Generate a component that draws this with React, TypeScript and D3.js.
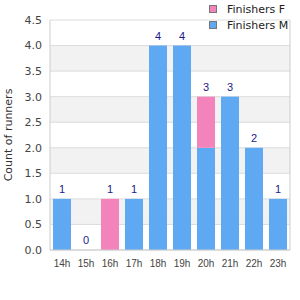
import React from "react";
import * as d3 from "d3";

const hours = ["14h", "15h", "16h", "17h", "18h", "19h", "20h", "21h", "22h", "23h"];
const finishersM = [1, 0, 0, 1, 4, 4, 2, 3, 2, 1];
const finishersF = [0, 0, 1, 0, 0, 0, 1, 0, 0, 0];
const yTicks = [0, 0.5, 1, 1.5, 2, 2.5, 3, 3.5, 4, 4.5];

const colorM = "#5fa9f2";
const colorF = "#f284bb";
const font = "DejaVu Sans, Verdana, sans-serif";

const App = () => {
  const width = 300;
  const height = 300;
  const margin = { top: 20, right: 10, bottom: 50, left: 50 };
  const innerW = width - margin.left - margin.right;
  const innerH = height - margin.top - margin.bottom;

  const x = d3.scaleBand().domain(hours).range([0, innerW]).paddingInner(0.25).paddingOuter(0.125);
  const y = d3.scaleLinear().domain([0, 4.5]).range([innerH, 0]);

  const rows = hours.map((h, i) => ({ hour: h, M: finishersM[i], F: finishersF[i] }));
  const stacked = d3.stack<any>().keys(["M", "F"])(rows);
  const colors: Record<string, string> = { M: colorM, F: colorF };

  // grey bands between n+0.5 and n+1
  const bands = d3.range(0.5, 4.5, 1);

  return (
    <svg width={width} height={height} style={{ position: "absolute", left: 0, top: 0, fontFamily: font }}>
      <g transform={`translate(${margin.left},${margin.top})`}>
        {bands.map((b) => (
          <rect key={b} x={0} y={y(b + 0.5)} width={innerW} height={y(b) - y(b + 0.5)} fill="#f2f2f2" />
        ))}
        {yTicks.map((t) => (
          <g key={t}>
            <line x1={0} x2={innerW} y1={y(t)} y2={y(t)} stroke="#dcdcdc" />
            <text x={-8} y={y(t)} dy="0.35em" textAnchor="end" fontSize={11} fill="#444">
              {t.toFixed(1)}
            </text>
          </g>
        ))}
        <line x1={0} x2={0} y1={0} y2={innerH} stroke="#ccc" />
        <line x1={innerW} x2={innerW} y1={0} y2={innerH} stroke="#ccc" />
        {stacked.map((s) => (
          <g key={s.key} fill={colors[s.key]}>
            {s.map((d, i) =>
              d[1] - d[0] > 0 ? (
                <rect key={i} x={x(hours[i])} y={y(d[1])} width={x.bandwidth()} height={y(d[0]) - y(d[1])} />
              ) : null
            )}
          </g>
        ))}
        <line x1={0} x2={innerW} y1={innerH} y2={innerH} stroke="#ccc" />
        {rows.map((r) => (
          <text
            key={r.hour}
            x={(x(r.hour) ?? 0) + x.bandwidth() / 2}
            y={y(r.M + r.F) - 6}
            textAnchor="middle"
            fontSize={11}
            fontFamily="Liberation Sans, Arial, sans-serif"
            fill="#1a1a8c"
          >
            {r.M + r.F}
          </text>
        ))}
        {hours.map((h) => (
          <text
            key={h}
            x={(x(h) ?? 0) + x.bandwidth() / 2}
            y={innerH + 17}
            textAnchor="middle"
            fontSize={10}
            fontFamily="Liberation Sans, Arial, sans-serif"
            fill="#444"
          >
            {h}
          </text>
        ))}
      </g>
      <text transform={`translate(12,${margin.top + innerH / 2}) rotate(-90)`} textAnchor="middle" fontSize={11} fill="#333">
        Count of runners
      </text>
      <g transform="translate(209,5)">
        {[
          { label: "Finishers F", color: colorF },
          { label: "Finishers M", color: colorM },
        ].map((l, i) => (
          <g key={l.label} transform={`translate(0,${i * 16})`}>
            <rect x={0.5} y={0.5} width={7} height={7} fill={l.color} stroke="#777" />
            <text x={18} y={4} dy="0.35em" fontSize={11} fill="#222">
              {l.label}
            </text>
          </g>
        ))}
      </g>
    </svg>
  );
};

export default App;
